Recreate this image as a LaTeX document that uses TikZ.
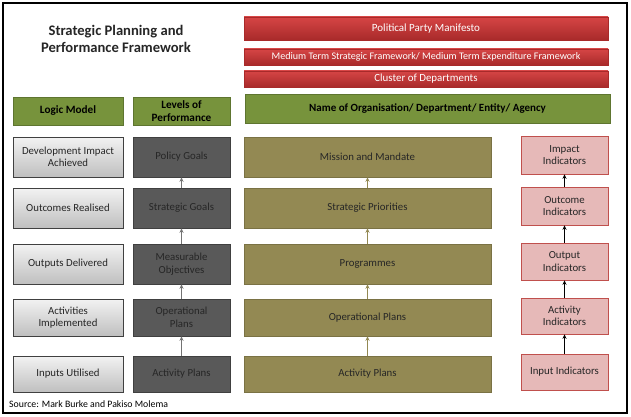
\documentclass[tikz,border=0pt]{standalone}
\usepackage{fontspec}
\setmainfont{Carlito}
\usetikzlibrary{shadows,arrows.meta}
\definecolor{hdrgreen}{HTML}{77933C}
\definecolor{hdrgreenD}{HTML}{5E7530}
\definecolor{darkbox}{HTML}{595959}
\definecolor{darkboxD}{HTML}{404040}
\definecolor{olivebox}{HTML}{938953}
\definecolor{oliveD}{HTML}{7A7244}
\definecolor{pinkbox}{HTML}{E6B9B8}
\definecolor{pinkD}{HTML}{C0504D}
\definecolor{redtop}{HTML}{D64545}
\definecolor{redbot}{HTML}{A82A2A}
\definecolor{txt}{HTML}{262626}
\tikzset{
  base/.style={rectangle, inner sep=0pt, align=center, font=\fontsize{10.8}{12.5}\selectfont, text=txt,
    drop shadow={shadow xshift=1pt, shadow yshift=-1.2pt, opacity=0.35, fill=black}},
  greenhdr/.style={base, fill=hdrgreen, draw=hdrgreenD, line width=0.6pt, font=\bfseries\fontsize{11.2}{12.5}\selectfont, text=black},
  redbar/.style={base, top color=redtop, bottom color=redbot, draw=redbot, line width=0.5pt, text=white},
  lightbox/.style={base, top color=white!95!black, bottom color=white!75!black, draw=black!75, line width=0.7pt, minimum width=110pt},
  darkbx/.style={base, fill=darkbox, draw=darkboxD, line width=0.6pt, minimum width=97pt},
  olivebx/.style={base, fill=olivebox, draw=oliveD, line width=0.5pt, minimum width=247pt},
  pinkbx/.style={base, fill=pinkbox, draw=pinkD, line width=0.6pt, minimum width=87pt},
  uparrow/.style={-{Stealth[length=4.5pt,width=4pt]}, line width=1.3pt},
}
\begin{document}
\begin{tikzpicture}[x=1pt,y=-1pt]
\useasboundingbox (0,0) rectangle (631,417);
\fill[white] (0,0) rectangle (631,417);
\draw[line width=1.6pt, black] (3,3) rectangle (627,413);

% title
\node[font=\bfseries\fontsize{14.6}{17.5}\selectfont, align=center, text=txt] (title) at (116,39) {Strategic Planning and\\Performance Framework};

% headers
\node[greenhdr, minimum width=110pt, minimum height=28pt] (logic) at (68,111) {Logic Model};
\node[greenhdr, minimum width=97pt, minimum height=28pt] (levels) at (181.5,111) {Levels of\\Performance};
\node[redbar, minimum width=364pt, minimum height=23pt, font=\fontsize{11}{12.5}\selectfont] (ppm) at (426,28.5) {Political Party Manifesto};
\node[redbar, minimum width=364pt, minimum height=16pt, font=\fontsize{10.1}{12}\selectfont] (mtsf) at (426,57) {Medium Term Strategic Framework/ Medium Term Expenditure Framework};
\node[redbar, minimum width=364pt, minimum height=16pt, font=\fontsize{10.9}{12}\selectfont] (cluster) at (426,79) {Cluster of Departments};
\node[greenhdr, minimum width=365pt, minimum height=29pt, font=\bfseries\fontsize{11}{12.5}\selectfont] (name) at (427.5,108.5) {Name of Organisation/ Department/ Entity/ Agency};

% logic model column
\node[lightbox, minimum height=40pt] (l1) at (68,157) {Development Impact\\Achieved};
\node[lightbox, minimum height=40pt] (l2) at (68,208) {Outcomes Realised};
\node[lightbox, minimum height=40pt] (l3) at (68,264) {Outputs Delivered};
\node[lightbox, minimum height=37pt] (l4) at (68,317.5) {Activities\\Implemented};
\node[lightbox, minimum height=36pt] (l5) at (68,374) {Inputs Utilised};

% levels column
\node[darkbx, minimum height=40pt] (d1) at (181.5,157) {Policy Goals};
\node[darkbx, minimum height=40pt] (d2) at (181.5,208) {Strategic Goals};
\node[darkbx, minimum height=40pt] (d3) at (181.5,264) {Measurable\\Objectives};
\node[darkbx, minimum height=37pt] (d4) at (181.5,317.5) {Operational\\Plans};
\node[darkbx, minimum height=36pt] (d5) at (181.5,374) {Activity Plans};

% organisation column
\node[olivebx, minimum height=40pt] (o1) at (367.5,157) {Mission and Mandate};
\node[olivebx, minimum height=40pt] (o2) at (367.5,208) {Strategic Priorities};
\node[olivebx, minimum height=40pt] (o3) at (367.5,264) {Programmes};
\node[olivebx, minimum height=37pt] (o4) at (367.5,317.5) {Operational Plans};
\node[olivebx, minimum height=36pt] (o5) at (367.5,374) {Activity Plans};

% indicators column
\node[pinkbx, minimum height=38pt] (p1) at (564.5,155) {Impact\\Indicators};
\node[pinkbx, minimum height=38pt] (p2) at (564.5,206) {Outcome\\Indicators};
\node[pinkbx, minimum height=37pt] (p3) at (564.5,261.5) {Output\\Indicators};
\node[pinkbx, minimum height=36pt] (p4) at (564.5,316) {Activity\\Indicators};
\node[pinkbx, minimum height=36pt] (p5) at (564.5,372) {Input Indicators};

% arrows
\foreach \a/\b in {d2/d1,d3/d2,d4/d3,d5/d4}
  \draw[uparrow, draw=black!55, fill=black!55] (\a.north) -- (\b.south);
\foreach \a/\b in {o2/o1,o3/o2,o4/o3,o5/o4}
  \draw[uparrow, draw=olivebox, fill=olivebox] (\a.north) -- (\b.south);
\foreach \a/\b in {p2/p1,p3/p2,p4/p3,p5/p4}
  \draw[uparrow, draw=black, fill=black] (\a.north) -- (\b.south);

% source
\node[anchor=west, font=\fontsize{9.8}{11}\selectfont, text=black, inner sep=0pt] (src) at (9,404) {Source: Mark Burke and Pakiso Molema};
\end{tikzpicture}
\end{document}
